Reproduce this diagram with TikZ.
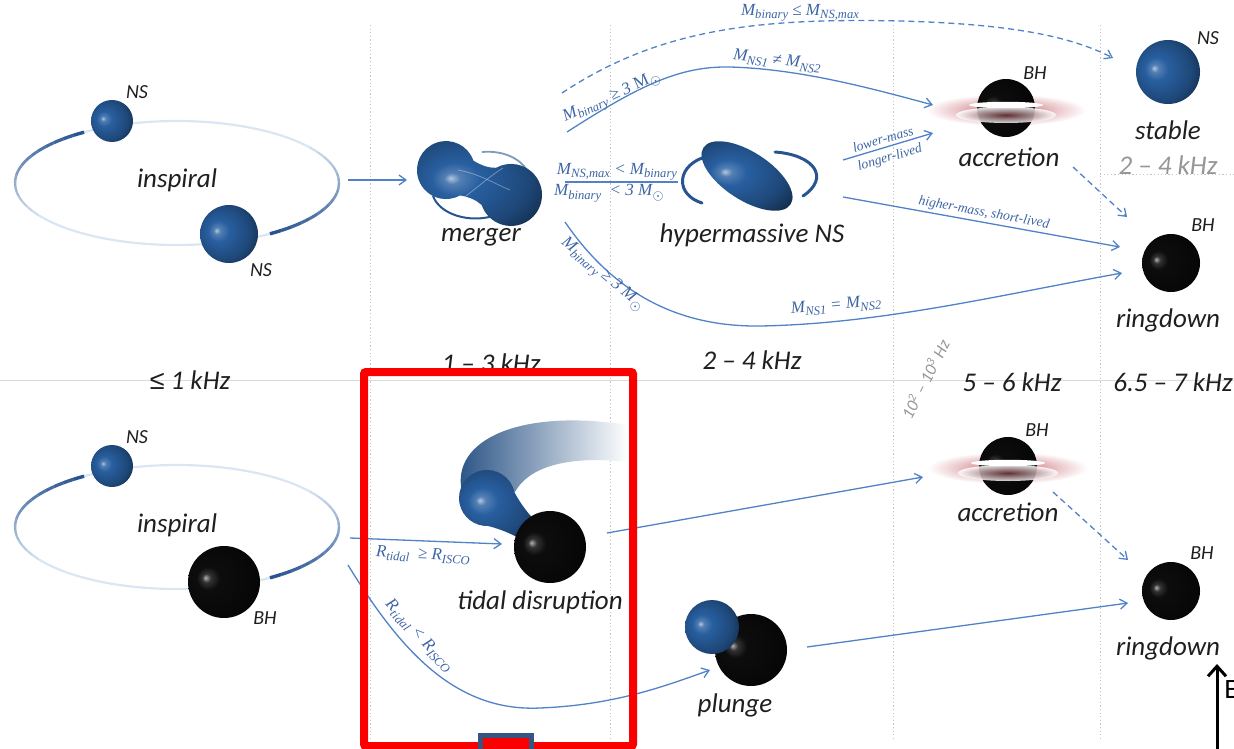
\documentclass[tikz,border=0pt]{standalone}
\usepackage{fontspec}
\setmainfont{Carlito}
\newfontfamily\condfont{Liberation Serif}
\newfontfamily\symfont{Liberation Sans}
\usetikzlibrary{arrows.meta}

\definecolor{nsblue}{RGB}{40,95,160}
\definecolor{ringdark}{RGB}{40,85,145}
\definecolor{ringpale}{RGB}{218,230,243}
\definecolor{flowblue}{RGB}{80,130,200}
\definecolor{condblue}{RGB}{60,100,165}
\definecolor{gridgray}{RGB}{195,195,195}
\definecolor{freqgray}{RGB}{150,150,150}
\definecolor{glowred}{RGB}{200,100,110}
\definecolor{markred}{RGB}{250,0,0}
\definecolor{markslate}{RGB}{55,85,130}

% sphere shadings: small highlight on the left, darker rim
\pgfdeclareradialshading{nsshade}{\pgfpoint{-11bp}{3bp}}{%
  color(0bp)=(nsblue!35!white); color(3bp)=(nsblue!80!white);
  color(9bp)=(nsblue); color(24bp)=(nsblue!75!black);
  color(34bp)=(nsblue!45!black); color(50bp)=(nsblue!45!black)}
\pgfdeclareradialshading{bhshade}{\pgfpoint{-13bp}{3bp}}{%
  color(0bp)=(black!30); color(3bp)=(black!80);
  color(8bp)=(black!95); color(50bp)=(black)}

% subscript in condition labels
\newcommand{\sbs}[1]{\raisebox{-0.45ex}{\fontsize{6.3}{7}\selectfont #1}}

\tikzset{
  nsball/.style={circle, inner sep=0pt, shade, shading=nsshade},
  bhball/.style={circle, inner sep=0pt, shade, shading=bhshade},
  stage/.style={font=\fontsize{13.5}{15}\selectfont\itshape, text=black!88, inner sep=0pt},
  kind/.style={font=\fontsize{10}{11}\selectfont\itshape, text=black!88, inner sep=0pt},
  band/.style={font=\fontsize{13.5}{15}\selectfont\itshape, text=black!88, inner sep=0pt},
  cond/.style={font=\condfont\itshape\fontsize{8.5}{9}\selectfont, text=condblue, inner sep=0.5pt},
  note/.style={font=\condfont\itshape\fontsize{6.8}{7}\selectfont, text=condblue, inner sep=0.5pt},
  flow/.style={draw=flowblue, line width=0.65pt, -{Straight Barb[length=3.5pt,width=5pt]}},
  flowdash/.style={flow, dash pattern=on 3pt off 2pt},
  divider/.style={draw=gridgray, line width=0.5pt, dash pattern=on 0.6pt off 1.2pt},
  bracket/.style={draw=ringdark, line width=1.5pt, line cap=round},
}

% orbit of a binary: pale ellipse with two dark arcs fading out
\newcommand{\orbitring}[2]{%
  \draw[ringpale, line width=1.1pt] (#1,#2) ellipse[x radius=162, y radius=62];
  \foreach \i in {0,...,17}{%
    \pgfmathsetmacro\mixv{100-5.5*\i}%
    \pgfmathsetmacro\lw{1.7-0.05*\i}%
    \pgfmathsetmacro\aa{235-4.8*\i}%
    \pgfmathsetmacro\ab{235-4.8*(\i+1)}%
    \pgfmathsetmacro\ba{55-5*\i}%
    \pgfmathsetmacro\bb{55-5*(\i+1)}%
    \draw[ringdark!\mixv!ringpale, line width=\lw pt]
      ({#1+162*cos(\aa)},{#2+62*sin(\aa)}) arc[start angle=\aa, end angle=\ab, x radius=162, y radius=62];
    \draw[ringdark!\mixv!ringpale, line width=\lw pt]
      ({#1+162*cos(\ba)},{#2+62*sin(\ba)}) arc[start angle=\ba, end angle=\bb, x radius=162, y radius=62];
  }%
}

% black hole with an accretion disc around it
\newcommand{\accretor}[3]{%
  \shade[inner color=glowred, outer color=white] (#1,#2+2) ellipse[x radius=80, y radius=16];
  \node[bhball, minimum size=29pt] (#3) at (#1,#2) {};
  \shade[inner color=glowred!55!black, outer color=white, opacity=0.85] (#1,#2+7) ellipse[x radius=50, y radius=8];
  \fill[white] (#1,#2-3) ellipse[x radius=37, y radius=3.2];
}

\begin{document}
\begin{tikzpicture}[x=0.5pt, y=-0.5pt]
\useasboundingbox (0,0) rectangle (1234,748);
\begin{scope}
\clip (0,0) rectangle (1234,748);

% ---------- frequency grid ----------
\draw[gridgray!60, line width=0.5pt] (0,380) -- (1234,380);
\foreach \x in {370,610,893,1100} \draw[divider] (\x,25) -- (\x,740);
\draw[divider] (1100,175) -- (1234,175);

\node[band] (f1) at (190,380) {{\symfont ≤} 1 kHz};
\node[band] (f2) at (491,363) {1 -- 3 kHz};
\node[band] (f3) at (752,360) {2 -- 4 kHz};
\node[band] (f4) at (1012,382) {5 -- 6 kHz};
\node[band] (f5) at (1173,382) {6.5 -- 7 kHz};
\node[band, text=freqgray] (f6) at (1168,165) {2 -- 4 kHz};
\node[font=\fontsize{8.5}{9}\selectfont\itshape, text=freqgray, rotate=63, inner sep=0pt] (f7) at (925,379) {10\textsuperscript{2} -- 10\textsuperscript{3} Hz};

% ---------- neutron star binary ----------
\orbitring{177}{183}
\node[nsball, minimum size=21pt] (nsA) at (112,121) {};
\node[nsball, minimum size=29pt] (nsB) at (229,234) {};
\node[kind] (nsA-t) at (137,92) {NS};
\node[kind] (nsB-t) at (261,270) {NS};
\node[stage] (insp1) at (177,180) {inspiral};

% merger: two touching stars as one dumbbell body
\draw[ringdark, line width=1pt] (433,196) .. controls (440,215) and (470,223) .. (493,216);
\draw[ringdark!60!white, line width=0.9pt] (482,152) .. controls (505,150) and (522,160) .. (528,172);
\begin{scope}[shift={(478.5,182.5)}, rotate=-21]
  \shade[shading=nsshade] (-12.6,-18.6) arc[start angle=-40, end angle=-320, radius=29]
    .. controls (-4,17) and (4,17) .. (11.05,19.9)
    arc[start angle=140, end angle=-140, radius=31]
    .. controls (4,-17) and (-4,-17) .. cycle;
\end{scope}
\draw[white, opacity=0.35, line width=0.4pt] (458,170) .. controls (480,174) and (495,184) .. (510,190);
\draw[white, opacity=0.35, line width=0.4pt] (462,199) .. controls (478,187) and (490,176) .. (503,168);
\coordinate (mg) at (478,183);
\node[stage] (merger) at (481,237) {merger};

% hypermassive neutron star
\draw[bracket] (702,158) .. controls (676,168) and (676,195) .. (702,203);
\draw[bracket] (775,152) .. controls (815,155) and (830,178) .. (803,196);
\shade[shading=nsshade, rotate around={-33:(747,176)}] (747,176) ellipse[x radius=52, y radius=24];
\node[stage] (hmns) at (752,235) {hypermassive NS};

% accretion, stable NS, ringdown
\accretor{1006}{108}{bhA}
\node[kind] (bhA-t) at (1035,73) {BH};
\node[stage] (acc1) at (1009,157) {accretion};

\node[nsball, minimum size=32pt] (nsS) at (1168,72) {};
\node[kind] (nsS-t) at (1208,38) {NS};
\node[stage] (stable) at (1168,130) {stable};

\node[bhball, minimum size=29pt] (bhR1) at (1171,263) {};
\node[kind] (bhR1-t) at (1203,225) {BH};
\node[stage] (ring1) at (1168,320) {ringdown};

% ---------- neutron star -- black hole binary ----------
\orbitring{177}{527}
\node[nsball, minimum size=21pt] (nsC) at (112,466) {};
\node[bhball, minimum size=36pt] (bhC) at (224,582) {};
\node[kind] (nsC-t) at (137,437) {NS};
\node[kind] (bhC-t) at (265,618) {BH};
\node[stage] (insp2) at (177,525) {inspiral};

% tidal disruption: stripped tail and stretched star
\shade[left color=nsblue!80!black, right color=white]
  (462,492) .. controls (450,440) and (520,408) .. (628,425) -- (628,462)
  .. controls (565,455) and (528,468) .. (515,492) -- cycle;
\begin{scope}[shift={(487,498)}, rotate=-38]
  \shade[shading=nsshade] (18,-21.45) arc[start angle=-50, end angle=-310, radius=28]
    .. controls (30,16) and (45,12) .. (58,11) -- (58,-11)
    .. controls (45,-12) and (30,-16) .. cycle;
\end{scope}
\coordinate (nsT) at (487,498);
\node[bhball, minimum size=36pt] (bhT) at (550,547) {};
\node[stage] (tidal) at (540,602) {tidal disruption};

% plunge
\node[bhball, minimum size=36pt] (bhP) at (751,650) {};
\node[nsball, minimum size=27pt] (nsP) at (712,627) {};
\node[stage] (plunge) at (735,705) {plunge};

% accretion and ringdown
\accretor{1008}{466}{bhB}
\node[kind] (bhB-t) at (1037,430) {BH};
\node[stage] (acc2) at (1008,512) {accretion};

\node[bhball, minimum size=29pt] (bhR2) at (1171,591) {};
\node[kind] (bhR2-t) at (1202,553) {BH};
\node[stage] (ring2) at (1168,648) {ringdown};

% ---------- connectors, upper row ----------
\coordinate (i1-out) at (348,180);  \coordinate (mg-in) at (407,180);
\coordinate (mg-o1) at (562,93);    \coordinate (st-in) at (1113,58);
\coordinate (mg-o2) at (567,132);   \coordinate (ac1-in) at (933,105);
\coordinate (mg-o3) at (565,182);   \coordinate (hm-in) at (678,182);
\coordinate (mg-o4) at (565,222);   \coordinate (rd1-in2) at (1122,273);
\coordinate (hm-o1) at (843,160);   \coordinate (ac1-in2) at (933,133);
\coordinate (hm-o2) at (843,197);   \coordinate (rd1-in1) at (1120,247);
\coordinate (ac1-o) at (1073,167);  \coordinate (rd1-in0) at (1127,217);

\draw[flow] (i1-out) -- (mg-in);
\draw[flowdash] (mg-o1) .. controls (660,28) and (760,18) .. (900,21) .. controls (1010,24) and (1070,36) .. (st-in);
\node[cond] (c1) at (800,13) {M\sbs{binary} ≤ M\sbs{NS,max}};
\draw[flow] (mg-o2) .. controls (640,85) and (680,66) .. (730,67) .. controls (800,69) and (870,88) .. (ac1-in);
\node[cond, rotate=24] (c2) at (612,98) {M\sbs{binary} ≥ 3 {\upshape M}\sbs{$\odot$}};
\node[cond, rotate=-7] (c3) at (777,61) {M\sbs{NS1} ≠ M\sbs{NS2}};
\draw[draw=flowblue, line width=0.65pt] (mg-o3) -- (hm-in);
\node[cond] (c4) at (617,172) {M\sbs{NS,max} < M\sbs{binary}};
\node[cond] (c5) at (609,193) {M\sbs{binary}\ \ < 3 M\sbs{$\odot$}};
\draw[flow] (mg-o4) .. controls (615,295) and (680,327) .. (760,326) .. controls (880,324) and (1000,295) .. (rd1-in2);
\node[cond, rotate=-40] (c6) at (602,275) {M\sbs{binary}\ ≥ 3 M\sbs{$\odot$}};
\node[cond, rotate=5] (c7) at (836,306) {M\sbs{NS1} = M\sbs{NS2}};
\draw[flow] (hm-o1) -- (ac1-in2);
\node[note, rotate=16] (n1) at (883,139) {lower-mass};
\node[note, rotate=16] (n2) at (890,158) {longer-lived};
\draw[flow] (hm-o2) -- (rd1-in1);
\node[note, rotate=-10.5] (n3) at (984,213) {higher-mass, short-lived};
\draw[flowdash] (ac1-o) -- (rd1-in0);

% ---------- connectors, lower row ----------
\coordinate (i2-o1) at (350,538);   \coordinate (td-in) at (502,544);
\coordinate (i2-o2) at (348,565);   \coordinate (pl-in) at (710,670);
\coordinate (td-o) at (607,533);    \coordinate (ac2-in) at (923,477);
\coordinate (ac2-o) at (1053,492);  \coordinate (rd2-in0) at (1128,560);
\coordinate (pl-o) at (807,647);    \coordinate (rd2-in1) at (1128,603);

\draw[flow] (i2-o1) -- (td-in);
\node[cond, rotate=-3] (c8) at (423,555) {R\sbs{tidal}\ \ ≥ R\sbs{ISCO}};
\draw[flow] (i2-o2) .. controls (400,650) and (455,712) .. (540,708) .. controls (615,705) and (665,686) .. (pl-in);
\node[cond, rotate=-47] (c9) at (419,636) {R\sbs{tidal} < R\sbs{ISCO}};
\draw[flow] (td-o) -- (ac2-in);
\draw[flowdash] (ac2-o) -- (rd2-in0);
\draw[flow] (pl-o) -- (rd2-in1);

% ---------- highlight frame and energy axis ----------
\draw[markred, line width=4pt, rounded corners=1pt] (364,372) rectangle (633,746);
\draw[markslate, line width=2.5pt, fill=markred] (480.5,735.5) rectangle (531.5,755);
\coordinate (e-base) at (1217,760);
\coordinate (e-tip) at (1217,664);
\draw[black, line width=1.5pt, -{Straight Barb[length=5pt,width=9pt]}] (e-base) -- (e-tip);
\node[anchor=west, font=\fontsize{14}{16}\selectfont, inner sep=0pt] (e-lbl) at (1224,690) {E};
\end{scope}
\end{tikzpicture}
\end{document}
